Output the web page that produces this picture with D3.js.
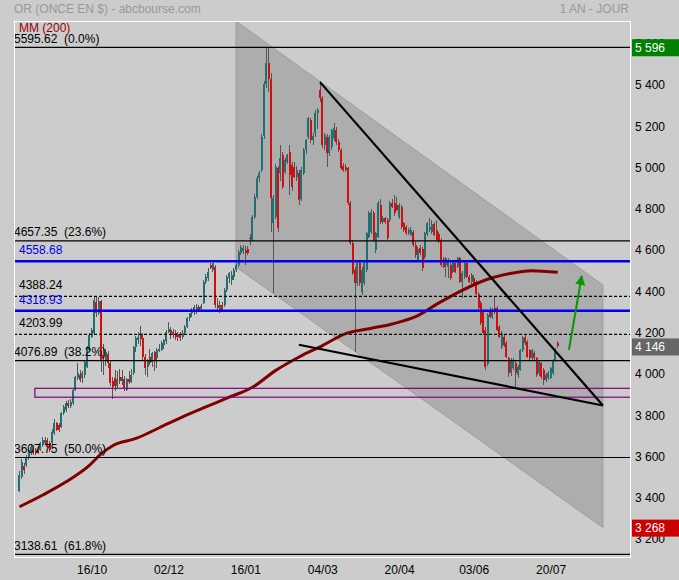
<!DOCTYPE html>
<html lang="fr">
<head>
<meta charset="UTF-8" />
<title>OR (ONCE EN $)</title>
<script src="https://d3js.org/d3.v7.min.js"></script>
<style>
    body { margin: 0; background: #cccccc; }
    svg { display: block; font-family: "Liberation Sans", Arial, sans-serif; }
</style>
</head>
<body>
<div id="chart"></div>
<script>
// ---- données ----
const startDate = new Date(2025, 8, 2); // premier jour de cotation affiché
const opens = [3447,3515,3565,3572,3604,3628,3644,3641,3644,3644,3668,3677,3693,3677,3677,3725,3774,3765,3757,3822,
  3838,3870,3858,3870,3935,3992,4008,3992,4008,4048,4129,4193,4210,4363,4306,4365,4104,4075,4110,4064,
  3980,3995,3955,4000,3980,3990,3935,3990,3975,4016,4145,4177,4200,4185,4096,4048,4096,4072,4120,4088,
  4125,4129,4153,4170,4218,4226,4218,4210,4205,4201,4193,4210,4242,4282,4306,4315,4320,4338,4328,4355,
  4460,4476,4540,4516,4532,4347,4323,4347,4347,4420,4476,4468,4484,4516,4541,4600,4610,4613,4620,4672,
  4662,4775,4872,4961,5000,5165,5420,5520,5440,4745,4775,5010,4985,5074,4990,5041,5090,5025,5017,4969,
  4985,4860,4985,5098,5162,5243,5146,5179,5276,5389,5348,5122,5163,5082,5114,5154,5195,5138,5098,5020,
  5017,5009,4839,4646,4516,4452,4549,4411,4452,4516,4678,4700,4791,4613,4678,4831,4751,4767,4759,4760,
  4839,4839,4831,4775,4823,4743,4726,4694,4686,4700,4640,4565,4621,4620,4580,4690,4710,4700,4740,4710,
  4690,4662,4570,4541,4530,4541,4508,4550,4533,4573,4460,4484,4548,4484,4460,4476,4460,4400,4355,4315,
  4226,4060,4320,4290,4330,4331,4240,4145,4193,4161,4088,4016,4040,4064,4008,4032,4129,4193,4169,4129,
  4088,4113,4088,4016,4064,4032,3983,3992,3995,4016,4075,4165];
const highs = [3540,3600,3580,3620,3650,3675,3668,3655,3660,3685,3705,3708,3702,3688,3745,3792,3782,3775,3830,3862,
  3880,3885,3890,3940,4005,4064,4030,4025,4080,4150,4210,4235,4385,4388,4385,4372,4160,4135,4125,4075,
  4000,4030,4025,4035,4030,4002,3995,4027,4035,4150,4195,4215,4245,4211,4110,4085,4132,4120,4125,4140,
  4160,4170,4180,4225,4264,4240,4230,4225,4215,4215,4225,4250,4290,4310,4330,4345,4350,4345,4350,4470,
  4495,4525,4548,4552,4540,4380,4365,4360,4430,4490,4505,4510,4525,4550,4615,4640,4640,4632,4635,4690,
  4785,4885,4970,4995,5175,5430,5597,5597,5470,4880,5030,5020,5122,5090,5060,5080,5122,5040,5040,5020,
  5000,5017,5110,5150,5260,5255,5180,5290,5300,5430,5360,5180,5175,5170,5200,5230,5210,5150,5110,5035,
  5030,5015,4850,4660,4530,4560,4555,4530,4560,4700,4800,4810,4800,4700,4850,4860,4780,4775,4770,4850,
  4860,4880,4870,4840,4830,4750,4735,4720,4725,4712,4650,4630,4640,4630,4700,4750,4766,4760,4750,4760,
  4700,4670,4580,4580,4575,4550,4565,4560,4580,4580,4510,4555,4555,4492,4500,4490,4470,4410,4365,4325,
  4240,4310,4335,4330,4387,4340,4250,4220,4205,4170,4095,4090,4090,4075,4055,4135,4195,4200,4178,4135,
  4135,4125,4095,4080,4072,4040,4015,4025,4045,4085,4140,4172];
const lows = [3440,3505,3530,3560,3598,3620,3622,3618,3625,3638,3660,3670,3655,3635,3670,3718,3735,3730,3750,3815,
  3830,3850,3848,3862,3928,3985,3975,3970,3995,4040,4120,4185,4200,4290,4300,4020,4010,4050,4040,3955,
  3890,3930,3945,3965,3960,3928,3930,3965,3968,4010,4120,4160,4150,4080,4010,4000,4055,4045,4025,4040,
  4118,4122,4135,4160,4212,4180,4185,4175,4170,4170,4180,4200,4235,4270,4290,4300,4305,4315,4315,4350,
  4450,4465,4520,4505,4330,4320,4310,4315,4335,4410,4455,4445,4470,4505,4530,4590,4595,4540,4590,4640,
  4655,4765,4860,4945,4990,5150,5400,5380,4700,4405,4765,4700,4950,4910,4980,5030,4880,4900,4960,4950,
  4830,4850,4975,5080,5150,5130,5120,5160,5200,5330,5110,5100,5017,5070,5100,5140,5120,5090,5000,4990,
  4990,4830,4640,4490,4121,4440,4440,4395,4445,4505,4670,4690,4650,4600,4670,4740,4740,4740,4660,4750,
  4815,4780,4800,4765,4715,4700,4685,4685,4680,4630,4575,4555,4590,4510,4570,4680,4700,4690,4680,4655,
  4645,4530,4525,4484,4476,4470,4500,4500,4525,4455,4380,4475,4478,4452,4450,4445,4395,4325,4250,4200,
  4030,4050,4282,4280,4305,4220,4185,4135,4145,4090,4000,4005,4030,3951,3995,4025,4120,4155,4090,4080,
  4075,4080,4000,4005,3990,3960,3975,3985,3990,4010,4070,4140];
const closes = [3523,3588,3547,3612,3644,3660,3631,3628,3630,3677,3693,3693,3660,3644,3733,3774,3741,3741,3822,3854,
  3870,3858,3875,3935,4000,4016,3983,4016,4072,4145,4201,4226,4371,4306,4365,4080,4088,4120,4064,3967,
  3950,3955,3990,3980,3998,3940,3990,3975,4010,4145,4185,4193,4180,4096,4040,4080,4064,4112,4080,4129,
  4135,4161,4177,4218,4231,4210,4201,4193,4190,4185,4210,4242,4282,4306,4323,4339,4335,4325,4342,4460,
  4484,4508,4525,4548,4347,4331,4347,4323,4420,4484,4500,4492,4516,4540,4605,4630,4625,4597,4600,4665,
  4775,4872,4961,4985,5162,5420,5520,5440,4866,4866,5017,4720,5057,4920,5050,5074,4977,4920,4969,5000,
  4856,5000,5098,5146,5251,5146,5165,5276,5290,5348,5122,5171,5082,5160,5195,5203,5138,5098,5009,5000,
  5001,4839,4646,4500,4452,4549,4452,4516,4549,4694,4791,4799,4662,4694,4839,4751,4767,4751,4670,4839,
  4823,4791,4807,4831,4726,4710,4694,4710,4710,4640,4590,4620,4597,4525,4694,4743,4726,4740,4686,4662,
  4655,4541,4533,4573,4565,4476,4557,4508,4573,4460,4500,4548,4484,4460,4492,4452,4400,4331,4258,4210,
  4048,4300,4290,4323,4315,4226,4193,4210,4153,4097,4016,4080,4080,4016,4048,4129,4185,4161,4097,4088,
  4129,4088,4008,4072,4000,3983,4008,4016,4040,4075,4135,4146];

// moyenne mobile 200 jours, points relevés (index de séance, valeur)
const mmIndex = [0, 10, 20, 30, 35, 40, 50, 60, 70, 80, 90, 100, 110, 120, 130, 140, 150, 160, 170, 180, 190, 200, 210, 220, 231];
const mmValue = [3369, 3426, 3490, 3570, 3625, 3665, 3700, 3752, 3805, 3853, 3900, 3948, 4030, 4095, 4150, 4208, 4232, 4255, 4290, 4357, 4418, 4468, 4498, 4513, 4505];

// niveaux horizontaux
const levelValues = [5595.62, 4657.35, 4558.68, 4388.24, 4318.93, 4203.99, 4076.89, 3607.75, 3138.61];
const levelLabels = ["5595.62  (0.0%)", "4657.35  (23.6%)", "4558.68", "4388.24", "4318.93", "4203.99",
  "4076.89  (38.2%)", "3607.75  (50.0%)", "3138.61  (61.8%)"];
const levelKinds = ["fib", "fib", "blue", "dash", "blue", "dash", "fib", "fib", "fib"];

// zone violette
const zoneStart = 6.6, zoneLow = 3900, zoneHigh = 3943;

// canal baissier (index, prix)
const channelIdx = [92.9, 250.4, 250.4, 92.9];
const channelVal = [5723, 4444, 3268, 4531];

// droites de tendance
const trendIdx = [[129, 250.4], [119.9, 250.4]];
const trendVal = [[5427, 3860], [4154, 3860]];

// flèche verte
const arrowIdx = [235.8, 241.3];
const arrowVal = [4129, 4487];

// étiquettes de droite
const tagValues = [5596, 4146, 3268];
const tagColors = ["#008000", "#666666", "#cc0000"];

const tickLabels = ["16/10", "02/12", "16/01", "04/03", "20/04", "03/06", "20/07"];
const priceTicks = d3.range(3200, 5601, 200);

// ---- mise en page ----
const width = 679, height = 580;
const plot = { left: 14, right: 630, top: 21, bottom: 557 };

const dates = [];
for (const d = new Date(startDate); dates.length < closes.length; d.setDate(d.getDate() + 1)) {
    if (d.getDay() !== 0 && d.getDay() !== 6) dates.push(new Date(d));
}
const fmtDay = d3.timeFormat("%d/%m");
const tickIdx = tickLabels.map(l => dates.findIndex(d => fmtDay(d) === l));

const x = d3.scaleLinear().domain([-2.36, 262.02]).range([plot.left, plot.right]);
const y = d3.scaleLinear().domain([3125.6, 5723.1]).range([plot.bottom, plot.top]);

const fr = d3.formatLocale({ decimal: ",", thousands: " ", grouping: [3], currency: ["", ""] });
const fmtPrice = fr.format(",.0f");

const svg = d3.select("#chart").append("svg")
    .attr("width", width).attr("height", height);

svg.append("rect").attr("width", width).attr("height", height).attr("fill", "#cccccc");

const defs = svg.append("defs");
defs.append("clipPath").attr("id", "clip").append("rect")
    .attr("x", plot.left).attr("y", plot.top)
    .attr("width", plot.right - plot.left).attr("height", plot.bottom - plot.top);
defs.append("marker").attr("id", "arrow")
    .attr("viewBox", "0 0 10 10").attr("refX", 9).attr("refY", 5)
    .attr("markerWidth", 10).attr("markerHeight", 10)
    .attr("markerUnits", "userSpaceOnUse").attr("orient", "auto")
    .append("path").attr("d", "M0,0L10,5L0,10Z").attr("fill", "#009900");

// titres
svg.append("text").attr("x", 14).attr("y", 13).attr("font-size", 12).attr("fill", "#999")
    .text("OR (ONCE EN $) - abcbourse.com");
svg.append("text").attr("x", 629).attr("y", 13).attr("font-size", 12).attr("fill", "#999")
    .attr("text-anchor", "end").text("1 AN - JOUR");

const g = svg.append("g").attr("clip-path", "url(#clip)");

// canal
g.append("path")
    .attr("d", d3.line()(channelIdx.map((d, i) => [x(d), y(channelVal[i])])) + "Z")
    .attr("fill", "#adadad").attr("stroke", "#9e9e9e").attr("stroke-width", 1);

// bougies
const candles = g.append("g").attr("shape-rendering", "crispEdges");
closes.forEach((c, i) => {
    const o = opens[i];
    const up = c >= o;
    candles.append("rect")
        .attr("x", x(i) - 0.5).attr("width", 1)
        .attr("y", y(highs[i])).attr("height", Math.max(1, y(lows[i]) - y(highs[i])))
        .attr("fill", "#555");
    candles.append("rect")
        .attr("x", x(i) - 1).attr("width", 2)
        .attr("y", y(Math.max(o, c))).attr("height", Math.max(1, Math.abs(y(o) - y(c))))
        .attr("fill", up ? "#1f7070" : "#d01010");
});

// MM 200
g.append("path")
    .datum(mmIndex.map((d, i) => [d, mmValue[i]]))
    .attr("d", d3.line().x(d => x(d[0])).y(d => y(d[1])).curve(d3.curveMonotoneX))
    .attr("fill", "none").attr("stroke", "#800000").attr("stroke-width", 3);

// zone violette
g.append("rect")
    .attr("x", x(zoneStart)).attr("y", y(zoneHigh))
    .attr("width", plot.right + 10 - x(zoneStart)).attr("height", y(zoneLow) - y(zoneHigh))
    .attr("fill", "none").attr("stroke", "#800080").attr("stroke-width", 1.2);

// niveaux
levelValues.forEach((v, i) => {
    const k = levelKinds[i];
    g.append("line")
        .attr("x1", plot.left).attr("x2", plot.right)
        .attr("y1", y(v)).attr("y2", y(v))
        .attr("stroke", k === "blue" ? "#0000ee" : "#000")
        .attr("stroke-width", k === "blue" ? 2.6 : 1.2)
        .attr("stroke-dasharray", k === "dash" ? "3,2" : null);
});

// tendances
trendIdx.forEach((t, i) => {
    g.append("line")
        .attr("x1", x(t[0])).attr("y1", y(trendVal[i][0]))
        .attr("x2", x(t[1])).attr("y2", y(trendVal[i][1]))
        .attr("stroke", "#000").attr("stroke-width", 2.2);
});

// flèche
g.append("line")
    .attr("x1", x(arrowIdx[0])).attr("y1", y(arrowVal[0]))
    .attr("x2", x(arrowIdx[1])).attr("y2", y(arrowVal[1]))
    .attr("stroke", "#009900").attr("stroke-width", 2)
    .attr("marker-end", "url(#arrow)");

// textes des niveaux
levelValues.forEach((v, i) => {
    const k = levelKinds[i];
    svg.append("text")
        .attr("x", k === "fib" ? 14 : 19)
        .attr("y", y(v) - (k === "fib" ? 4.5 : 7))
        .attr("font-size", 12)
        .attr("fill", k === "blue" ? "#0000ee" : "#000")
        .style("white-space", "pre")
        .text(levelLabels[i]);
});

svg.append("text").attr("x", 19).attr("y", 32).attr("font-size", 12).attr("fill", "#990000")
    .text("MM (200)");

// cadre
svg.append("rect")
    .attr("x", plot.left + 0.5).attr("y", plot.top + 0.5)
    .attr("width", plot.right - plot.left).attr("height", plot.bottom - plot.top)
    .attr("fill", "none").attr("stroke", "#fff").attr("stroke-width", 1);

// axe des prix
const yAxis = svg.append("g")
    .attr("transform", `translate(${plot.right},0)`)
    .call(d3.axisRight(y).tickValues(priceTicks).tickSize(0).tickPadding(5).tickFormat(fmtPrice));
yAxis.select(".domain").remove();
yAxis.selectAll("text").attr("font-size", 12).attr("fill", "#000")
    .attr("font-family", "Liberation Sans, Arial, sans-serif").attr("dy", "0.1em");

// axe des dates
const xAxis = svg.append("g")
    .attr("transform", `translate(0,${plot.bottom})`)
    .call(d3.axisBottom(x).tickValues(tickIdx).tickSize(0).tickPadding(8.5)
        .tickFormat((d, i) => tickLabels[i]));
xAxis.select(".domain").remove();
xAxis.selectAll("text").attr("font-size", 12).attr("fill", "#000")
    .attr("font-family", "Liberation Sans, Arial, sans-serif").attr("dx", -2.5);

// étiquettes colorées à droite
tagValues.forEach((v, i) => {
    svg.append("rect")
        .attr("x", plot.right + 2).attr("y", y(v) - 8)
        .attr("width", width - plot.right - 2).attr("height", 17)
        .attr("fill", tagColors[i]);
    svg.append("text")
        .attr("x", plot.right + 5).attr("y", y(v) + 4.5)
        .attr("font-size", 12).attr("fill", "#fff")
        .text(fmtPrice(v));
});
</script>
</body>
</html>
